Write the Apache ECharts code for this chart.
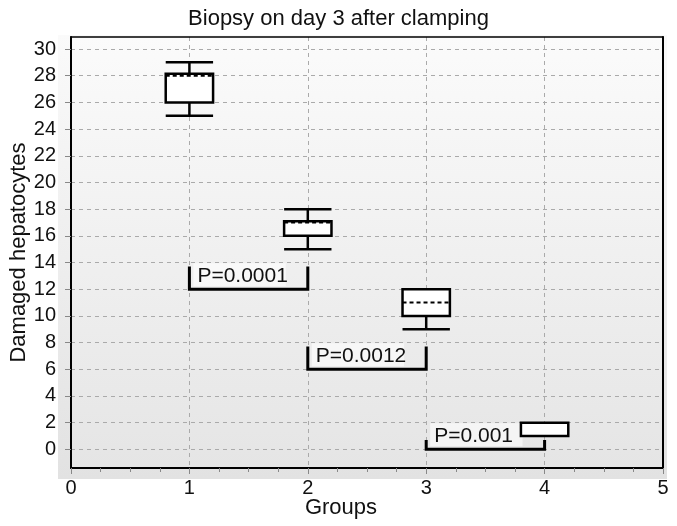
<!DOCTYPE html>
<html>
<head>
<meta charset="utf-8">
<script src="https://cdn.jsdelivr.net/npm/echarts@6/dist/echarts.min.js"></script>
<style>html,body{margin:0;padding:0;background:#fff;}#c{width:677px;height:526px;}</style>
</head>
<body>
<div id="c"></div>
<script>
const groups = [1, 2, 3, 4];
const whiskerLow = [25, 15, 9, 1];
const q1 = [26, 16, 10, 1];
const median = [28, 17, 11, 2];
const q3 = [28.15, 17.1, 12, 2];
const whiskerHigh = [29, 18, 12, 2];

const bracketFrom = [1, 2, 3];
const bracketTo = [2, 3, 4];
const bracketBase = [12, 6, 0];
const bracketTop = [13.7, 7.7, 0.7];
const bracketLabels = ['P=0.0001', 'P=0.0012', 'P=0.001'];

const yTicks = [0, 2, 4, 6, 8, 10, 12, 14, 16, 18, 20, 22, 24, 26, 28, 30];

const FONT = 'Liberation Sans, Arial, Helvetica, sans-serif';
const chart = echarts.init(document.getElementById('c'), null, {renderer: 'canvas'});

const boxData = groups.map((g, i) => [g, whiskerLow[i], q1[i], median[i], q3[i], whiskerHigh[i]]);
const bracketData = bracketFrom.map((f, i) => [f, bracketTo[i], bracketBase[i], bracketTop[i], i]);

chart.setOption({
  animation: false,
  backgroundColor: '#ffffff',
  title: {
    text: 'Biopsy on day 3 after clamping',
    left: 'center',
    top: 3,
    textStyle: {fontFamily: FONT, fontSize: 22, fontWeight: 'normal', color: '#111'}
  },
  graphic: [{
    type: 'rect', z: -10, silent: true,
    shape: {x: 58, y: 35, width: 609, height: 444},
    style: {fill: new echarts.graphic.LinearGradient(0, 0, 0, 1, [
      {offset: 0, color: '#fafafa'}, {offset: 1, color: '#e2e2e2'}])}
  }],
  grid: {
    left: 71, right: 14, top: 37, bottom: 58,
    outerBoundsMode: 'none',
    containLabel: false,
    show: true,
    borderWidth: 0,
    backgroundColor: new echarts.graphic.LinearGradient(0, 0, 0, 1, [
      {offset: 0, color: '#fbfbfb'}, {offset: 1, color: '#e5e5e5'}])
  },
  xAxis: [{
    type: 'value', min: 0, max: 5, interval: 1,
    name: 'Groups', nameLocation: 'middle', nameGap: 29, nameMoveOverlap: false,
    nameTextStyle: {fontFamily: FONT, fontSize: 22, color: '#111', padding: [0, 52, 0, 0]},
    axisLine: {show: true, onZero: false, lineStyle: {color: '#000', width: 2}},
    axisTick: {show: true, length: 6, lineStyle: {color: '#888', width: 1}},
    minorTick: {show: true, splitNumber: 4, length: 4, lineStyle: {color: '#888'}},
    axisLabel: {fontFamily: FONT, fontSize: 20, color: '#111', margin: 10},
    splitLine: {show: true, lineStyle: {color: '#aaa', type: [4, 4], width: 1}},
    minorSplitLine: {show: false}
  }, {
    type: 'value', min: 0, max: 5, interval: 1, position: 'top',
    axisLine: {show: true, onZero: false, lineStyle: {color: '#000', width: 1.5}},
    axisTick: {show: false}, axisLabel: {show: false}, splitLine: {show: false}
  }],
  yAxis: [{
    type: 'value', min: -1.4, max: 30.9,
    name: 'Damaged hepatocytes', nameLocation: 'middle', nameGap: 41, nameMoveOverlap: false,
    nameTextStyle: {fontFamily: FONT, fontSize: 22, color: '#111'},
    axisLine: {show: true, onZero: false, lineStyle: {color: '#000', width: 2}},
    axisTick: {show: true, length: 6, customValues: yTicks, lineStyle: {color: '#888'}},
    axisLabel: {fontFamily: FONT, fontSize: 20, color: '#111', margin: 15, customValues: yTicks},
    splitLine: {show: true, lineStyle: {color: '#aaa', type: [4, 4], width: 1}}
  }, {
    type: 'value', min: -1.4, max: 30.9, position: 'right',
    axisLine: {show: true, onZero: false, lineStyle: {color: '#000', width: 2}},
    axisTick: {show: false}, axisLabel: {show: false}, splitLine: {show: false}
  }],
  series: [{
    type: 'custom',
    name: 'boxes',
    data: boxData,
    z: 5,
    renderItem: function (params, api) {
      const x = api.value(0), lo = api.value(1), a = api.value(2), med = api.value(3), b = api.value(4), hi = api.value(5);
      const hw = 0.2;
      const tl = api.coord([x - hw, b]);
      const br = api.coord([x + hw, a]);
      const c = api.coord([x, 0]);
      const pLo = api.coord([x, lo]);
      const pHi = api.coord([x, hi]);
      const pMed = api.coord([x, med]);
      const stroke = {stroke: '#000', lineWidth: 2.5, fill: null};
      const children = [];
      if (hi > b) {
        children.push({type: 'line', shape: {x1: c[0], y1: pHi[1], x2: c[0], y2: tl[1]}, style: stroke});
        children.push({type: 'line', shape: {x1: tl[0], y1: pHi[1], x2: br[0], y2: pHi[1]}, style: stroke});
      }
      if (lo < a) {
        children.push({type: 'line', shape: {x1: c[0], y1: br[1], x2: c[0], y2: pLo[1]}, style: stroke});
        children.push({type: 'line', shape: {x1: tl[0], y1: pLo[1], x2: br[0], y2: pLo[1]}, style: stroke});
      }
      children.push({type: 'rect', shape: {x: tl[0], y: tl[1], width: br[0] - tl[0], height: br[1] - tl[1]},
        style: {stroke: '#000', lineWidth: 2.5, fill: '#fff'}});
      if (med > a && med < b) {
        children.push({type: 'line', shape: {x1: tl[0], y1: pMed[1], x2: br[0], y2: pMed[1]},
          style: {stroke: '#000', lineWidth: 2, lineDash: [4, 3]}});
      }
      return {type: 'group', children: children};
    }
  }, {
    type: 'custom',
    name: 'brackets',
    data: bracketData,
    z: 4,
    renderItem: function (params, api) {
      const x1 = api.value(0), x2 = api.value(1), y0 = api.value(2), y1 = api.value(3);
      const idx = api.value(4);
      const p1 = api.coord([x1, y1]), p2 = api.coord([x1, y0]), p3 = api.coord([x2, y0]), p4 = api.coord([x2, y1]);
      const span = p3[0] - p2[0];
      return {type: 'group', children: [
        {type: 'rect', shape: {x: p2[0] + 4, y: p2[1] - 26, width: span * 0.78, height: 23},
          style: {fill: 'rgba(255,255,255,0.6)'}},
        {type: 'polyline', shape: {points: [p1, p2, p3, p4]},
          style: {stroke: '#000', lineWidth: 3, fill: null}},
        {type: 'text', x: p2[0] + 8, y: p2[1] - 13,
          style: {text: bracketLabels[idx], fill: '#111', font: '21px ' + FONT, verticalAlign: 'middle', align: 'left'}}
      ]};
    }
  }]
});
</script>
</body>
</html>
